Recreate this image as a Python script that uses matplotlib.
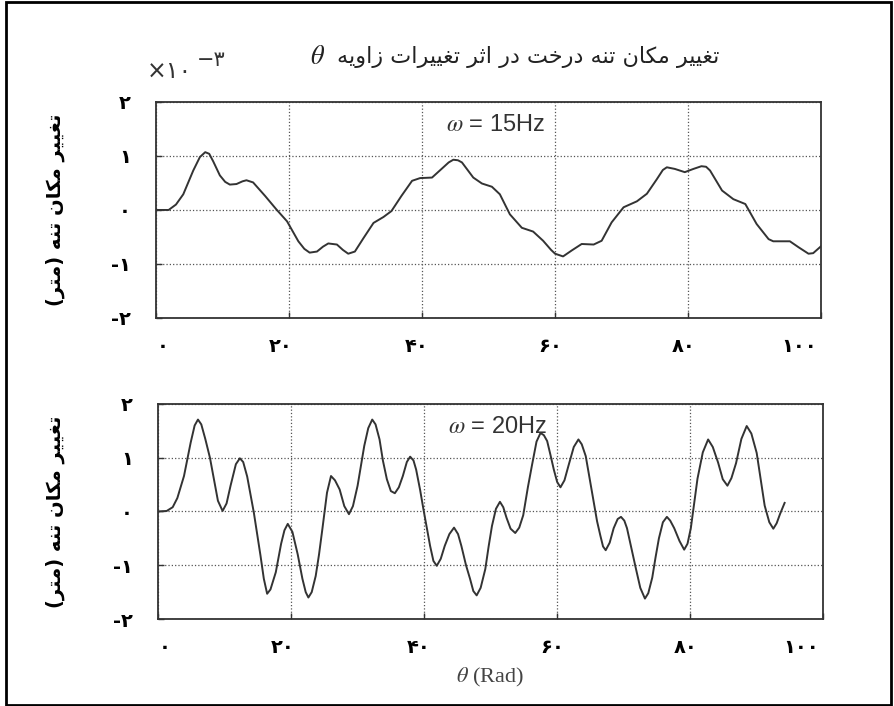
import matplotlib
matplotlib.use('Agg')
import matplotlib.pyplot as plt
from matplotlib.patches import Rectangle
from matplotlib.transforms import ScaledTranslation

plt.rcParams['mathtext.fontset'] = 'stix'

# Persian letters -> (isolated, final, initial, medial) presentation forms
FORMS = {
    'ا': ('\uFE8D', '\uFE8E', None, None),
    'ت': ('\uFE95', '\uFE96', '\uFE97', '\uFE98'),
    'ث': ('\uFE99', '\uFE9A', '\uFE9B', '\uFE9C'),
    'خ': ('\uFEA5', '\uFEA6', '\uFEA7', '\uFEA8'),
    'د': ('\uFEA9', '\uFEAA', None, None),
    'ر': ('\uFEAD', '\uFEAE', None, None),
    'ز': ('\uFEAF', '\uFEB0', None, None),
    'غ': ('\uFECD', '\uFECE', '\uFECF', '\uFED0'),
    'م': ('\uFEE1', '\uFEE2', '\uFEE3', '\uFEE4'),
    'ن': ('\uFEE5', '\uFEE6', '\uFEE7', '\uFEE8'),
    'ه': ('\uFEE9', '\uFEEA', '\uFEEB', '\uFEEC'),
    'و': ('\uFEED', '\uFEEE', None, None),
    'ک': ('\uFB8E', '\uFB8F', '\uFB90', '\uFB91'),
    'ی': ('\uFBFC', '\uFBFD', '\uFBFE', '\uFBFF'),
}


def fa(text):
    out = []
    for i, c in enumerate(text):
        if c not in FORMS:
            out.append(c)
            continue
        prev = text[i - 1] if i > 0 else ''
        nxt = text[i + 1] if i + 1 < len(text) else ''
        jp = prev in FORMS and FORMS[prev][2] is not None
        jn = nxt in FORMS and FORMS[c][2] is not None
        iso, fin, ini, med = FORMS[c]
        if jp and jn:
            out.append(med)
        elif jp:
            out.append(fin)
        elif jn:
            out.append(ini)
        else:
            out.append(iso)
    return ''.join(out)[::-1].translate(str.maketrans('()', ')('))


title = 'تغییر مکان تنه درخت در اثر تغییرات زاویه'
ylabel = 'تغییر مکان تنه (متر)'
xticks = [0, 20, 40, 60, 80, 100]
xtick_labels = ['۰', '۲۰', '۴۰', '۶۰', '۸۰', '۱۰۰']
yticks = [-2, -1, 0, 1, 2]
ytick_labels = ['-۲', '-۱', '۰', '۱', '۲']

# displacement (x10^-3 m) against theta, omega = 15 Hz
x15 = [0, 1.9, 3.0, 4.1, 5.6, 6.6, 7.4, 8.0, 8.6, 9.6, 10.4, 11.1, 12.1, 13.0,
       13.6, 14.6, 16.4, 18.1, 19.7, 21.4, 22.3, 23.1, 24.2, 25.1, 25.9, 27.2,
       28.1, 28.9, 29.9, 31.2, 32.7, 34.2, 35.4, 36.9, 38.5, 39.7, 41.5, 43.2,
       44.0, 44.7, 45.4, 46.0, 47.7, 49.0, 50.5, 51.7, 53.2, 55.0, 56.7, 58.2,
       59.4, 60.0, 61.2, 62.5, 64.0, 65.8, 67.0, 68.5, 70.3, 72.3, 73.8, 75.3,
       76.2, 76.8, 78.0, 79.5, 80.8, 82.0, 82.7, 83.3, 85.1, 86.8, 88.6, 90.3,
       92.1, 92.8, 95.3, 96.6, 98.1, 98.8, 100]
y15 = [0, 0, 0.1, 0.29, 0.73, 0.98, 1.07, 1.04, 0.9, 0.64, 0.52, 0.47, 0.48, 0.53,
       0.55, 0.51, 0.26, 0.01, -0.21, -0.58, -0.72, -0.79, -0.77, -0.68, -0.62,
       -0.64, -0.74, -0.81, -0.77, -0.52, -0.24, -0.13, -0.02, 0.26, 0.54, 0.59,
       0.60, 0.79, 0.88, 0.93, 0.92, 0.88, 0.60, 0.49, 0.43, 0.29, -0.08, -0.33,
       -0.40, -0.57, -0.74, -0.81, -0.86, -0.75, -0.63, -0.64, -0.57, -0.23,
       0.05, 0.16, 0.30, 0.57, 0.74, 0.79, 0.76, 0.70, 0.76, 0.81, 0.80, 0.73,
       0.36, 0.20, 0.11, -0.26, -0.54, -0.58, -0.58, -0.69, -0.81, -0.80, -0.67]

# displacement (x10^-3 m) against theta, omega = 20 Hz
x20 = [0, 1.3, 2.2, 2.9, 3.9, 4.9, 5.5, 6.0, 6.5, 7.1, 7.8, 8.4, 9.0, 9.7, 10.3,
       10.9, 11.7, 12.3, 12.8, 13.4, 14.0, 14.4, 15.0, 15.4, 15.9, 16.4, 16.9,
       17.7, 18.5, 19.0, 19.5, 20.2, 21.0, 21.7, 22.2, 22.6, 23.1, 23.7, 24.2,
       24.7, 25.4, 26.0, 26.6, 27.3, 28.0, 28.7, 29.3, 30.0, 30.5, 31.0, 31.6,
       32.2, 32.7, 33.3, 33.8, 34.4, 35.0, 35.6, 36.2, 36.8, 37.4, 37.9, 38.4,
       38.8, 39.4, 39.9, 40.4, 40.9, 41.4, 41.9, 42.5, 43.1, 43.8, 44.5, 45.1,
       45.6, 46.3, 46.9, 47.4, 47.9, 48.5, 49.2, 49.7, 50.2, 50.8, 51.4, 51.9,
       52.4, 53.0, 53.7, 54.3, 54.9, 55.6, 56.2, 56.9, 57.5, 58.0, 58.5, 59.0,
       59.5, 60.0, 60.5, 61.1, 61.7, 62.5, 63.2, 63.7, 64.3, 64.9, 65.5, 66.0,
       66.5, 66.9, 67.3, 67.9, 68.5, 69.1, 69.6, 70.1, 70.5, 71.1, 71.8, 72.5,
       73.2, 73.7, 74.3, 74.8, 75.3, 75.9, 76.5, 77.0, 77.6, 78.4, 79.1, 79.6,
       80.1, 80.6, 81.1, 81.9, 82.7, 83.4, 84.2, 84.9, 85.6, 86.2, 86.9, 87.7,
       88.5, 89.2, 90.0, 90.6, 91.2, 91.9, 92.5, 93.0, 93.5, 94.2]
y20 = [0, 0.01, 0.08, 0.25, 0.66, 1.28, 1.6, 1.71, 1.62, 1.35, 1.0, 0.6, 0.2,
       0.01, 0.15, 0.48, 0.88, 0.99, 0.92, 0.65, 0.25, -0.02, -0.5, -0.82,
       -1.25, -1.53, -1.45, -1.13, -0.6, -0.35, -0.23, -0.38, -0.8, -1.25, -1.5,
       -1.60, -1.5, -1.2, -0.8, -0.33, 0.35, 0.66, 0.58, 0.41, 0.1, -0.05, 0.1,
       0.48, 0.85, 1.22, 1.55, 1.71, 1.62, 1.34, 0.95, 0.60, 0.38, 0.34, 0.45,
       0.66, 0.92, 1.02, 0.95, 0.78, 0.4, 0.04, -0.3, -0.64, -0.92, -1.01,
       -0.88, -0.64, -0.42, -0.30, -0.42, -0.64, -1.0, -1.25, -1.48, -1.56,
       -1.42, -1.07, -0.65, -0.27, 0.05, 0.18, 0.08, -0.12, -0.32, -0.40, -0.30,
       -0.07, 0.45, 0.85, 1.3, 1.46, 1.42, 1.31, 1.05, 0.78, 0.55, 0.45, 0.58,
       0.85, 1.2, 1.34, 1.25, 1.03, 0.6, 0.17, -0.18, -0.45, -0.65, -0.72,
       -0.58, -0.31, -0.14, -0.10, -0.17, -0.31, -0.65, -1.04, -1.42, -1.62,
       -1.52, -1.23, -0.85, -0.50, -0.2, -0.10, -0.17, -0.31, -0.55, -0.71,
       -0.6, -0.31, 0.15, 0.61, 1.1, 1.34, 1.2, 0.91, 0.6, 0.48, 0.62, 0.90,
       1.35, 1.59, 1.45, 1.09, 0.6, 0.11, -0.2, -0.32, -0.22, -0.05, 0.16]

# horizontal nudges (px) of the x tick labels
xlabel_shift = [7, -8, -5, -5, -5, -22]

fig = plt.figure(figsize=(8.94, 7.06), dpi=100)
fig.patches.append(Rectangle((6 / 894, 1 / 706), 885 / 894, 703 / 706,
                             transform=fig.transFigure, fill=False,
                             edgecolor='black', linewidth=2))

ax1 = fig.add_axes([0.1745, 0.5496, 0.744, 0.306])
ax2 = fig.add_axes([0.1768, 0.1232, 0.744, 0.3046])

for ax, x, y, lab in [(ax1, x15, y15, r'$\omega$ = 15Hz'), (ax2, x20, y20, r'$\omega$ = 20Hz')]:
    ax.plot(x, y, color='#333333', linewidth=1.4)
    ax.set_xlim(0, 100)
    ax.set_ylim(-2, 2)
    ax.set_xticks(xticks)
    ax.set_xticklabels(xtick_labels, fontsize=14, fontweight='bold', family='DejaVu Sans')
    ax.set_yticks(yticks)
    ax.set_yticklabels(ytick_labels, fontsize=14, fontweight='bold', family='DejaVu Sans')
    ax.tick_params(direction='in', length=4, width=1, color='#333333', pad=14)
    ax.tick_params(axis='y', pad=18)
    for lbl, dx in zip(ax.get_xticklabels(), xlabel_shift):
        lbl.set_transform(lbl.get_transform() + ScaledTranslation(dx / 100, 0, fig.dpi_scale_trans))
    ax.grid(True, linestyle=':', color='#555555', linewidth=0.9)
    for s in ax.spines.values():
        s.set_color('#333333')
        s.set_linewidth(1.3)
    ax.text(43.6, 1.57, lab, fontsize=17, family='Liberation Sans', color='#333333',
            va='center', ha='left')
    # y label beside each panel
    bb = ax.get_position()
    fig.text(55 / 894, (bb.y0 + bb.y1) / 2, fa(ylabel), rotation=90, fontsize=14,
             fontweight='bold', family='DejaVu Sans', ha='center', va='center')

t = fig.text(719 / 894, 1 - 57 / 706, fa(title), fontsize=16, family='DejaVu Sans',
             color='#222222', ha='right', va='center')
fig.canvas.draw()
tb = t.get_window_extent()
fig.text((tb.x0 - 12) / 894, 1 - 57 / 706, r'$\theta$', fontsize=19, color='#222222',
         ha='right', va='center')

fig.text(147 / 894, 1 - 71 / 706, '×۱۰', fontsize=17, family='DejaVu Sans',
         color='#333333', ha='left', va='center')
fig.text(197 / 894, 1 - 60 / 706, '−۳', fontsize=15, family='DejaVu Sans',
         color='#333333', ha='left', va='center')

fig.text(490 / 894, 1 - 677 / 706, r'$\theta$ (Rad)', fontsize=16, family='Liberation Serif',
         color='#444444', ha='center', va='center')

fig.savefig('out.png', dpi=100)
